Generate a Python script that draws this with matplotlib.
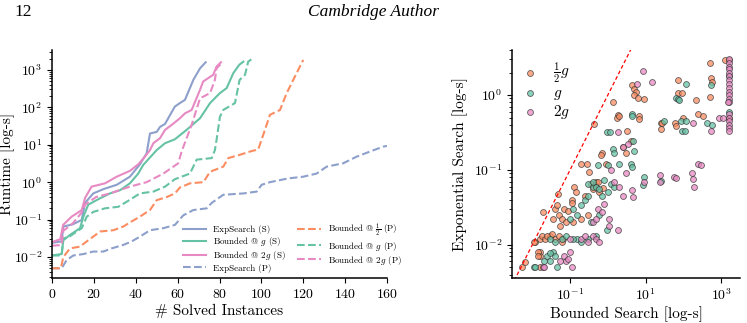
import numpy as np
import matplotlib
matplotlib.use('Agg')
import matplotlib.pyplot as plt
from matplotlib.ticker import FixedLocator, NullLocator, LogLocator

matplotlib.rc('font', family=['cmr10', 'DejaVu Serif'], size=10)
matplotlib.rc('mathtext', fontset='cm')
matplotlib.rc('axes', linewidth=1.1)
plt.rcParams['axes.formatter.use_mathtext'] = True

# --- cactus plot: (instances solved, runtime [s]) breakpoints ---
exp_s_x = [0, 4.6, 5.4, 10, 14.2, 15.8, 19.7, 24.5, 30.9, 37.2, 42, 45.2, 46.8, 50, 51.6,
           54, 55.5, 58.7, 61.1, 63.5, 67.5, 70.7, 73.4]
exp_s_y = [0.024, 0.026, 0.065, 0.075, 0.098, 0.28, 0.5, 0.65, 0.85, 1.4, 3.0, 5.9, 20, 22, 30,
           36, 51, 105, 130, 158, 540, 1100, 1600]

bg_s_x = [0, 4.6, 5.4, 8.6, 13.4, 15, 17.3, 22.9, 27.7, 32.5, 37.2, 41.2, 43.6, 50, 54,
          58.7, 64.3, 70.7, 75.5, 80.2, 83.4, 86.6, 89.4, 91.4]
bg_s_y = [0.011, 0.012, 0.028, 0.039, 0.059, 0.12, 0.25, 0.37, 0.5, 0.61, 0.93, 1.7, 2.9, 7.2, 11,
          14, 25, 51, 130, 240, 325, 820, 1360, 1660]

b2g_s_x = [0, 4, 5.3, 9.4, 14.2, 15.8, 18.9, 25.3, 30.9, 37.2, 41.2, 44.4, 46.8, 48.4, 51.6,
           54, 57.2, 61.1, 63.5, 66.7, 70.7, 72.2, 77, 78.6, 80.7]
b2g_s_y = [0.025, 0.03, 0.072, 0.12, 0.18, 0.38, 0.76, 0.93, 1.4, 2.0, 3.0, 4.8, 7.2, 11, 15,
           25, 34, 51, 69, 85, 294, 490, 740, 1230, 1600]

exp_p_x = [0, 4.6, 7, 10.2, 15, 19.7, 24.5, 28.5, 34, 38, 42, 46.8, 53.2, 58.7, 62.7, 67.5,
           73.9, 76.3, 81.8, 91.4, 97.8, 100.1, 104.1, 112.8, 120, 126.4, 131.2, 139.1, 145.5,
           151.9, 158.2, 160]
exp_p_y = [0.005, 0.005, 0.0083, 0.011, 0.012, 0.014, 0.014, 0.017, 0.021, 0.026, 0.035, 0.052,
           0.059, 0.072, 0.13, 0.18, 0.2, 0.28, 0.46, 0.5, 0.56, 0.85, 1.0, 1.26, 1.4, 1.7, 2.6,
           3.2, 4.8, 6.6, 8.9, 9.3]

bh_p_x = [0, 4.2, 5.4, 8.6, 13.4, 17.3, 19.7, 22.9, 29.3, 34, 38, 42, 46.8, 50, 54.8, 58.7,
          61.1, 65.9, 72.3, 75.5, 81.8, 84.2, 89.8, 94.6, 98.5, 101.7, 104.1, 108.9, 112.1,
          116, 117.6, 120]
bh_p_y = [0.005, 0.005, 0.01, 0.017, 0.019, 0.028, 0.035, 0.048, 0.052, 0.065, 0.089, 0.12,
          0.18, 0.33, 0.4, 0.5, 0.72, 0.93, 1.0, 1.9, 2.6, 4.4, 5.4, 6.6, 7.5, 25, 63, 85, 240,
          660, 1000, 1850]

bg_p_x = [0, 4.6, 5.4, 8.6, 14.2, 16.6, 19.7, 25.3, 31.7, 35.7, 42, 48.4, 54, 58.7, 65.9,
          69.1, 76.3, 77.8, 78.6, 80.2, 81.8, 87.4, 89.6, 92.2, 93.7, 95.4]
bg_p_y = [0.011, 0.011, 0.031, 0.036, 0.059, 0.12, 0.16, 0.2, 0.22, 0.3, 0.5, 0.56, 0.76, 1.2,
          1.7, 4.0, 4.4, 7.2, 13.5, 56, 85, 130, 540, 740, 1660, 1940]

b2g_p_x = [0, 4.6, 5.4, 10, 14, 15.8, 21, 27.7, 37.2, 45.2, 53.2, 60.3, 61.9, 66.7, 70.7,
           75.5, 77.8, 78.6, 81]
b2g_p_y = [0.02, 0.021, 0.05, 0.08, 0.15, 0.25, 0.4, 0.5, 0.76, 1.0, 1.7, 3.2, 6.6, 34, 174,
           240, 540, 1100, 1500]

# --- scatter: (bounded search, exponential search) runtimes ---
half_x = [0.0054, 0.0064, 0.016, 0.016, 0.016, 0.012, 0.011, 0.016, 0.018, 0.022, 0.03, 0.04,
          0.05, 0.065, 0.019, 0.035, 0.04, 0.045, 0.05, 0.06, 0.07, 0.08, 0.055, 0.048, 0.13,
          0.14, 0.11, 0.11, 0.09, 0.12, 0.2, 0.28, 0.32, 0.9, 0.5, 0.35, 0.6, 0.25, 0.3, 0.2,
          0.43, 0.7, 0.65, 1.38, 1.9, 1.8, 2.0, 6.8, 6.8, 3.2, 2.5, 4.0, 3.0, 4.4, 5.0, 5.5,
          4.8, 6.2, 9.1, 72, 70, 90, 220, 510, 540, 560, 500, 1300, 25, 27, 26, 60, 62, 95,
          250, 330, 1660, 1660, 0.014, 0.014, 0.45, 0.55, 0.75, 0.4, 0.033, 0.025, 0.06]
half_y = [0.005, 0.0059, 0.005, 0.008, 0.007, 0.011, 0.011, 0.012, 0.013, 0.012, 0.013, 0.012,
          0.013, 0.012, 0.027, 0.022, 0.03, 0.034, 0.025, 0.022, 0.03, 0.02, 0.018, 0.048, 0.06,
          0.05, 0.04, 0.036, 0.028, 0.02, 0.12, 0.12, 0.095, 0.12, 0.07, 0.065, 0.05, 0.045,
          0.025, 0.022, 0.41, 0.17, 0.16, 0.81, 0.55, 0.5, 0.52, 0.52, 0.48, 0.33, 0.2, 0.24,
          0.17, 1.35, 1.2, 1.1, 1.0, 0.9, 0.88, 1.58, 1.06, 1.06, 0.86, 2.7, 1.7, 1.5, 0.94,
          2.9, 0.42, 0.42, 0.35, 0.42, 0.39, 0.49, 0.56, 0.52, 2.9, 0.5, 0.008, 0.007, 0.062,
          0.068, 0.058, 0.055, 0.014, 0.013, 0.011]

g_x = [0.011, 0.012, 0.045, 0.02, 0.025, 0.03, 0.035, 0.04, 0.03, 0.03, 0.04, 0.06, 0.08, 0.15,
       0.2, 0.3, 0.5, 0.12, 0.2, 0.15, 0.1, 0.12, 0.25, 0.3, 0.4, 0.55, 1.0, 2.0, 4.2, 4.3,
       0.3, 0.4, 0.5, 0.6, 0.8, 1.0, 1.2, 0.7, 1.5, 0.95, 0.6, 0.35, 9, 8.5, 25, 1.4, 1.45,
       0.95, 1.15, 4.4, 4.4, 4.5, 5.0, 120, 65, 70, 75, 540, 30, 85, 90, 120, 110, 430, 580,
       1660, 1660]
g_y = [0.005, 0.005, 0.005, 0.006, 0.007, 0.006, 0.008, 0.007, 0.0078, 0.012, 0.011, 0.012,
       0.013, 0.012, 0.011, 0.012, 0.013, 0.012, 0.034, 0.025, 0.022, 0.03, 0.04, 0.045, 0.06,
       0.117, 0.115, 0.12, 0.12, 0.11, 0.065, 0.07, 0.06, 0.055, 0.073, 0.05, 0.065, 0.045,
       0.06, 0.016, 0.025, 0.02, 0.08, 0.063, 0.072, 0.19, 0.17, 0.32, 0.32, 0.56, 0.52, 0.24,
       0.18, 1.4, 0.9, 0.88, 0.85, 1.36, 0.45, 0.45, 0.33, 0.45, 0.33, 0.42, 0.4, 1.8, 0.6]

two_x = [0.019, 0.11, 0.02, 0.055, 0.07, 0.08, 0.1, 0.09, 0.1, 0.2, 0.3, 0.4, 0.5, 0.6, 0.25,
         0.55, 0.7, 1.1, 1.1, 1.9, 0.4, 0.5, 0.8, 4.4, 4.6, 9, 24, 24, 55, 65, 170, 180, 190,
         250, 300, 1.5, 2.0, 3.0, 2.5, 1.2, 1.9, 2.5, 3.5, 8.7, 15, 6.0, 180, 550, 900, 1100,
         1660, 1660, 1660, 1660, 1660, 1660, 1660, 1660, 1660, 1660, 1660, 1660, 1660, 1660,
         1660, 1660, 1660, 1660, 1660, 1500]
two_y = [0.005, 0.005, 0.005, 0.006, 0.007, 0.006, 0.008, 0.0065, 0.012, 0.012, 0.011, 0.013,
         0.012, 0.011, 0.013, 0.03, 0.027, 0.022, 0.018, 0.016, 0.02, 0.022, 0.035, 0.054,
         0.044, 0.07, 0.086, 0.07, 0.08, 0.078, 0.09, 0.075, 0.06, 0.12, 0.116, 0.07, 0.06,
         0.09, 0.045, 0.1, 0.32, 0.2, 0.22, 2.1, 1.5, 1.4, 0.42, 0.33, 0.49, 0.49, 3.0, 2.7,
         2.4, 2.2, 2.0, 1.8, 1.6, 1.4, 1.25, 1.1, 1.0, 0.88, 0.8, 0.56, 0.5, 0.45, 0.4, 0.36,
         0.33, 0.8]

blue, green, pink, orange = '#8da0cb', '#66c2a5', '#e78ac3', '#fc8d62'

fig = plt.figure(figsize=(7.47, 3.23), dpi=100)
fig.text(14 / 747, 1 - 12 / 323, '12', family='Liberation Serif', size=12.5, va='center')
fig.text(373 / 747, 1 - 12 / 323, 'Cambridge Author', family='Liberation Serif',
         style='italic', size=12.5, ha='center', va='center')

# Left: cactus plot
ax1 = fig.add_axes([52 / 747, 45 / 323, 335 / 747, 228 / 323])
ax1.plot(exp_s_x, exp_s_y, color=blue, lw=1.5, label='ExpSearch (S)')
ax1.plot(bg_s_x, bg_s_y, color=green, lw=1.5, label=r'Bounded @ $g$ (S)')
ax1.plot(b2g_s_x, b2g_s_y, color=pink, lw=1.5, label=r'Bounded @ $2g$ (S)')
ax1.plot(exp_p_x, exp_p_y, '--', color=blue, lw=1.5, label='ExpSearch (P)')
ax1.plot(bh_p_x, bh_p_y, '--', color=orange, lw=1.5, label=r'Bounded @ $\frac{1}{2}$ (P)')
ax1.plot(bg_p_x, bg_p_y, '--', color=green, lw=1.5, label=r'Bounded @ $g$ (P)')
ax1.plot(b2g_p_x, b2g_p_y, '--', color=pink, lw=1.5, label=r'Bounded @ $2g$ (P)')
ax1.set_yscale('log')
ax1.set_xlim(0, 160)
ax1.set_ylim(0.00275, 3400)
ax1.set_xticks(np.arange(0, 161, 20))
ax1.set_xlabel('# Solved Instances', size=11, labelpad=2)
ax1.set_ylabel('Runtime [log-s]', size=11)
ax1.yaxis.set_label_coords(-0.11, 0.5)
ax1.legend(ncol=2, loc='upper left', bbox_to_anchor=(0.385, 0.255), frameon=False,
           fontsize=6.5, labelspacing=0.12, columnspacing=1.2, handlelength=2.6,
           borderaxespad=0, borderpad=0.2)

# Right: scatter
ax2 = fig.add_axes([512 / 747, 45 / 323, 228 / 747, 228 / 323])
kw = dict(s=18, alpha=0.75, edgecolors='#333333', linewidths=0.6)
ax2.scatter(half_x, half_y, color=orange, label=r'$\frac{1}{2}g$', **kw)
ax2.scatter(g_x, g_y, color=green, label=r'$g$', **kw)
ax2.scatter(two_x, two_y, color=pink, label=r'$2g$', **kw)
ax2.set_xscale('log')
ax2.set_yscale('log')
ax2.set_xlim(0.0029, 3160)
ax2.set_ylim(0.0036, 4.0)
ref = np.array([0.001, 10])
ax2.plot(ref, ref, 'r--', lw=0.9, dashes=(3, 2))
ax2.xaxis.set_major_locator(FixedLocator([0.1, 10, 1000]))
ax2.xaxis.set_minor_locator(NullLocator())
ax2.set_xlabel('Bounded Search [log-s]', size=11, labelpad=2)
ax2.set_ylabel('Exponential Search [log-s]', size=11)
ax2.legend(loc='upper left', frameon=False, fontsize=11, handletextpad=1.0,
           handlelength=1.0, labelspacing=0.05, borderpad=0.2, borderaxespad=0.5)

for ax in (ax1, ax2):
    ax.spines['top'].set_visible(False)
    ax.spines['right'].set_visible(False)
    ax.tick_params(labelsize=10)
    ax.yaxis.set_minor_locator(LogLocator(base=10, subs=np.arange(2, 10), numticks=20))

fig.savefig('out.png', dpi=100)
